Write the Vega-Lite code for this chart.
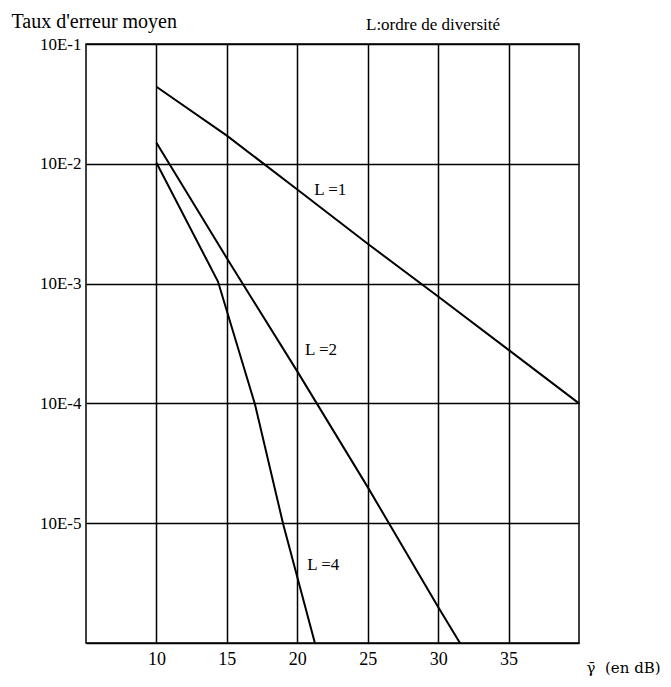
{
  "$schema": "https://vega.github.io/schema/vega-lite/v6.json",
  "width": 493,
  "height": 599,
  "autosize": "none",
  "padding": {"left": 86, "top": 44, "right": 92, "bottom": 44},
  "background": "white",
  "config": {
    "font": "Liberation Serif",
    "view": {"stroke": "black", "strokeWidth": 1.5}
  },
  "title": {
    "text": "L:ordre de diversité",
    "anchor": "start",
    "frame": "group",
    "dx": 280,
    "dy": 54,
    "offset": 14,
    "baseline": "bottom",
    "fontSize": 17,
    "fontWeight": "normal",
    "font": "Liberation Serif",
    "color": "black"
  },
  "datasets": {
    "curves": [
      {"L": "1", "snr": 10, "ber": 0.044},
      {"L": "1", "snr": 15, "ber": 0.0172},
      {"L": "1", "snr": 20, "ber": 0.0061},
      {"L": "1", "snr": 25, "ber": 0.00215},
      {"L": "1", "snr": 30, "ber": 0.00078},
      {"L": "1", "snr": 35, "ber": 0.00028},
      {"L": "1", "snr": 40, "ber": 0.0001},
      {"L": "2", "snr": 10, "ber": 0.015},
      {"L": "2", "snr": 15, "ber": 0.00163},
      {"L": "2", "snr": 20, "ber": 0.000185},
      {"L": "2", "snr": 25, "ber": 0.00002},
      {"L": "2", "snr": 30, "ber": 0.000002},
      {"L": "2", "snr": 31.55, "ber": 0.000001},
      {"L": "4", "snr": 10, "ber": 0.0102},
      {"L": "4", "snr": 14.37, "ber": 0.00104},
      {"L": "4", "snr": 17.0, "ber": 0.000098},
      {"L": "4", "snr": 19.0, "ber": 0.0000098},
      {"L": "4", "snr": 21.25, "ber": 0.000001}
    ],
    "labels": [
      {"label": "L =1", "snr": 21.2, "ber": 0.0061},
      {"label": "L =2", "snr": 20.55, "ber": 0.00028},
      {"label": "L =4", "snr": 20.7, "ber": 0.0000045}
    ]
  },
  "layer": [
    {
      "data": {"name": "curves"},
      "mark": {"type": "line", "color": "black", "strokeWidth": 2},
      "encoding": {
        "x": {
          "field": "snr",
          "type": "quantitative",
          "scale": {"domain": [5, 40], "nice": false, "zero": false},
          "axis": {
            "values": [10, 15, 20, 25, 30, 35],
            "grid": true,
            "gridColor": "black",
            "gridOpacity": 1,
            "gridWidth": 1.5,
            "ticks": false,
            "domain": false,
            "labelFontSize": 18,
            "labelColor": "black",
            "labelPadding": 7,
            "title": "γ̄\u00a0\u00a0(en\u00a0dB)",
            "titleFont": "DejaVu Serif",
            "titleFontSize": 15,
            "titleFontWeight": "normal",
            "titleColor": "black",
            "titleAlign": "left",
            "titleBaseline": "middle",
            "titleX": 500,
            "titleY": 24
          }
        },
        "y": {
          "field": "ber",
          "type": "quantitative",
          "scale": {"type": "log", "domain": [0.000001, 0.1], "nice": false},
          "axis": {
            "values": [0.1, 0.01, 0.001, 0.0001, 0.00001, 0.000001],
            "labelExpr": "datum.value < 0.000005 ? '' : '10E-' + round(-log(datum.value) / LN10)",
            "grid": true,
            "gridColor": "black",
            "gridOpacity": 1,
            "gridWidth": 1.5,
            "ticks": false,
            "domain": false,
            "labelFontSize": 17,
            "labelColor": "black",
            "labelPadding": 5,
            "title": "Taux d'erreur moyen",
            "titleAngle": 0,
            "titleAlign": "left",
            "titleBaseline": "alphabetic",
            "titleX": -75,
            "titleY": -17,
            "titleFontSize": 20,
            "titleFontWeight": "normal",
            "titleColor": "black"
          }
        },
        "detail": {"field": "L"}
      }
    },
    {
      "data": {"name": "labels"},
      "mark": {"type": "text", "align": "left", "baseline": "middle", "fontSize": 17, "font": "Liberation Serif", "color": "black"},
      "encoding": {
        "x": {"field": "snr", "type": "quantitative"},
        "y": {"field": "ber", "type": "quantitative"},
        "text": {"field": "label"}
      }
    }
  ]
}
